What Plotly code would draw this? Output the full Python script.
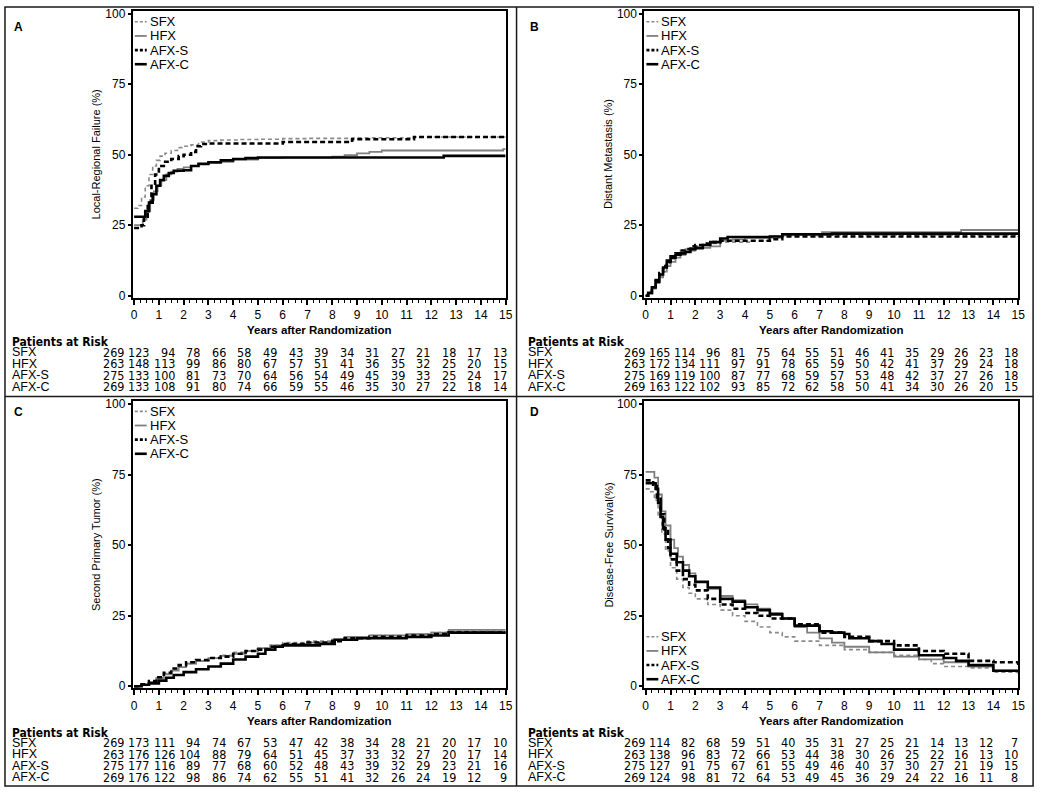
import plotly.graph_objects as go

W, H = 1050, 799
FONT = "Arial, Liberation Sans, Helvetica, sans-serif"
NARROW = "Liberation Sans Narrow, Arial Narrow, DejaVu Sans Condensed, Liberation Sans, sans-serif"

GROUPS = ["SFX", "HFX", "AFX-S", "AFX-C"]
YEARS = list(range(16))
Y_TICKS = [0, 25, 50, 75, 100]

PANEL_LETTERS = ["A", "B", "C", "D"]
Y_TITLES = ["Local-Regional Failure (%)", "Distant Metastasis (%)",
            "Second Primary Tumor (%)", "Disease-Free Survival(%)"]
X_TITLE = "Years after Randomization"
RISK_TITLE = "Patients at Risk"

# ---------------- Panel A: Local-regional failure ----------------
A_SFX_T = [0, 0.15, 0.3, 0.45, 0.6, 0.75, 0.9, 1.05, 1.25, 1.5, 1.75, 2.0, 2.3, 2.6, 3.0, 3.5, 4.2, 5.0, 6.0, 7.0, 8.8, 11.3, 15]
A_SFX_Y = [31, 32, 35, 39, 43, 46, 48, 49.5, 50.5, 51.5, 52.5, 53, 53.5, 54.5, 55, 55.2, 55.4, 55.5, 55.7, 55.8, 56, 56.3, 56.3]
A_HFX_T = [0, 0.2, 0.35, 0.5, 0.65, 0.8, 0.95, 1.1, 1.3, 1.5, 1.75, 2.0, 2.3, 2.6, 3.0, 3.5, 4.0, 5.0, 6.0, 8.0, 8.5, 9.0, 9.5, 10.0, 14.9, 15]
A_HFX_Y = [25, 25, 27, 30, 34, 37, 39, 41, 43, 44, 45, 45.5, 46, 46.5, 47, 47.5, 48.3, 48.8, 49, 49.3, 49.8, 50.5, 51, 51.5, 52, 52]
A_AFXS_T = [0, 0.3, 0.4, 0.55, 0.7, 0.85, 1.0, 1.2, 1.5, 1.8, 2.0, 2.3, 2.5, 2.7, 3.0, 6.0, 8.8, 11.3, 15]
A_AFXS_Y = [24, 25, 28, 33, 39, 43, 46, 47.5, 48.5, 49.5, 50, 51, 53, 53.8, 54, 54.5, 55.5, 56.3, 56.3]
A_AFXC_T = [0, 0.3, 0.45, 0.6, 0.75, 0.9, 1.05, 1.2, 1.4, 1.6, 2.0, 2.3, 2.6, 3.0, 3.5, 4.0, 4.5, 5.0, 12.5, 15]
A_AFXC_Y = [28, 28, 30, 33, 36, 39, 41, 42.5, 43.5, 44.3, 44.5, 46, 46.8, 47.3, 48, 48.5, 48.8, 49, 49.6, 49.6]

# ---------------- Panel B: Distant metastasis ----------------
B_SFX_T = [0, 0.1, 0.25, 0.4, 0.55, 0.7, 0.85, 1.0, 1.2, 1.4, 1.6, 1.8, 2.0, 2.3, 2.6, 3.0, 3.5, 4.3, 5.0, 5.5, 7.0, 15]
B_SFX_Y = [0, 1, 3, 5, 7, 9.5, 11.5, 13, 14.5, 16, 16.5, 17, 17.5, 18, 18.5, 19, 19, 19.5, 20.5, 21.3, 21.5, 21.8]
B_HFX_T = [0, 0.1, 0.25, 0.4, 0.55, 0.7, 0.85, 1.0, 1.2, 1.4, 1.6, 1.8, 2.0, 2.3, 2.6, 3.0, 3.5, 4.0, 5.0, 5.5, 7.1, 12.7, 15]
B_HFX_Y = [0, 0.8, 2.5, 4.5, 6.5, 8.5, 10.5, 12, 13.5, 14.5, 15.5, 16, 16.5, 17, 17.5, 19.5, 20, 20.5, 21, 21.5, 22.5, 23.3, 23.3]
B_AFXS_T = [0, 0.1, 0.25, 0.4, 0.55, 0.7, 0.85, 1.0, 1.2, 1.4, 1.6, 1.8, 2.0, 2.3, 2.6, 3.0, 3.3, 5.0, 5.5, 15]
B_AFXS_Y = [0, 1, 3, 5.5, 8, 10.5, 12.5, 14, 15, 16, 16.5, 17.5, 18, 18.5, 19, 19.5, 19.5, 20, 21, 21.2]
B_AFXC_T = [0, 0.1, 0.25, 0.4, 0.55, 0.7, 0.85, 1.0, 1.2, 1.4, 1.6, 1.8, 2.0, 2.3, 2.6, 3.0, 3.3, 5.0, 5.5, 7.5, 15]
B_AFXC_Y = [0, 1, 3, 5, 7.5, 10, 12, 13.5, 14.5, 15, 15.5, 16.5, 17, 18, 19, 20.3, 20.8, 21, 21.8, 22, 22]

# ---------------- Panel C: Second primary tumor ----------------
C_T = [0, 0.3, 0.6, 0.9, 1.2, 1.5, 1.8, 2.1, 2.5, 3.0, 3.5, 4.0, 4.5, 5.0, 5.5, 6.0, 7.0, 8.0, 8.5, 9.5, 11.0, 12.0, 12.7, 15]
C_SFX_Y = [0, 0.5, 1.5, 3, 4.5, 6, 7, 8, 9, 10, 11, 12, 12.5, 13.5, 14.5, 15.5, 16, 16.5, 17.5, 18, 18.5, 19, 19.5, 19.5]
C_HFX_Y = [0, 0.5, 1.5, 2.8, 4.2, 5.5, 6.8, 8, 9, 10, 10.8, 11.5, 12.5, 13.5, 14.5, 15, 15.5, 16.5, 17.5, 18, 18.5, 19, 20, 20]
C_AFXS_Y = [0, 0.7, 1.8, 3.2, 4.8, 6.3, 7.5, 8.5, 9.3, 10, 10.5, 11.5, 12.5, 13, 14, 15, 15.5, 16, 17, 17.5, 18, 18.5, 19, 19.5]
C_AFXC_T = [0, 0.3, 0.6, 1.0, 1.3, 1.6, 2.0, 2.5, 3.0, 3.5, 4.0, 4.5, 5.0, 5.3, 5.7, 6.0, 7.0, 7.5, 8.1, 9.0, 10.0, 11.0, 12.0, 12.7, 15]
C_AFXC_Y = [0, 0.5, 1, 2, 3, 4, 5, 6, 7, 8, 9.5, 10.5, 11.5, 13, 14, 14.5, 14.5, 15, 16.5, 17, 17, 17.5, 18, 19, 19]

# ---------------- Panel D: Disease-free survival ----------------
D_SFX_T = [0, 0.2, 0.35, 0.5, 0.65, 0.8, 1.0, 1.25, 1.5, 1.75, 2.0, 2.5, 3.0, 3.5, 4.0, 4.5, 5.0, 5.5, 6.0, 7.0, 8.0, 9.0, 10.0, 11.0, 11.5, 12.0, 13.0, 14.0, 15]
D_SFX_Y = [70, 69, 66, 60, 54, 48, 42, 38, 35, 33, 31, 29, 27, 25, 23, 21, 19, 17.5, 16, 14.5, 13, 12, 11, 9.5, 8, 7, 6.5, 5, 4]
D_HFX_T = [0, 0.35, 0.5, 0.65, 0.8, 1.0, 1.15, 1.3, 1.5, 1.75, 2.0, 2.5, 3.0, 3.5, 4.0, 4.5, 5.0, 5.5, 6.0, 6.5, 7.0, 7.5, 8.0, 9.0, 10.0, 11.0, 12.0, 13.0, 14.0, 15]
D_HFX_Y = [76, 74, 68, 62, 57, 52, 49, 46, 43, 40, 37, 34.5, 32, 30.5, 29, 27.5, 26, 24, 21, 19, 17, 15.5, 14, 12, 10.5, 9.5, 8.5, 7, 5.5, 4.5]
D_AFXS_T = [0, 0.3, 0.45, 0.6, 0.75, 0.9, 1.0, 1.25, 1.5, 1.75, 2.0, 2.5, 3.0, 3.5, 4.0, 4.5, 5.0, 6.0, 7.0, 8.0, 9.0, 10.0, 11.0, 12.0, 13.0, 14.0, 15]
D_AFXS_Y = [73, 71, 67, 61, 55, 49, 45, 41, 38, 36, 34, 31, 29, 27.5, 26, 25, 24, 22, 19, 17.5, 16, 14.5, 12.5, 11.5, 9, 8.5, 7]
D_AFXC_T = [0, 0.4, 0.5, 0.6, 0.7, 0.8, 1.0, 1.25, 1.5, 1.75, 2.0, 2.5, 3.0, 3.5, 4.0, 4.5, 5.0, 5.5, 6.0, 6.5, 7.0, 7.5, 8.0, 8.2, 9.0, 9.5, 10.0, 11.0, 12.0, 12.5, 13.0, 14.0, 15]
D_AFXC_Y = [72, 70, 65, 60, 56, 52, 47, 44, 41, 39, 37, 35, 31, 30, 28, 27, 25.5, 24, 21.5, 21.5, 19.5, 19, 18.5, 17, 16, 15, 13, 11, 10, 9, 7.5, 5.5, 5.5]

# ---------------- Patients at risk ----------------
A_RISK_SFX = [269, 123, 94, 78, 66, 58, 49, 43, 39, 34, 31, 27, 21, 18, 17, 13]
A_RISK_HFX = [263, 148, 113, 99, 86, 80, 67, 57, 51, 41, 36, 35, 32, 25, 20, 15]
A_RISK_AFXS = [275, 133, 100, 81, 73, 70, 64, 56, 54, 49, 45, 39, 33, 25, 24, 17]
A_RISK_AFXC = [269, 133, 108, 91, 80, 74, 66, 59, 55, 46, 35, 30, 27, 22, 18, 14]

B_RISK_SFX = [269, 165, 114, 96, 81, 75, 64, 55, 51, 46, 41, 35, 29, 26, 23, 18]
B_RISK_HFX = [263, 172, 134, 111, 97, 91, 78, 65, 59, 50, 42, 41, 37, 29, 24, 18]
B_RISK_AFXS = [275, 169, 119, 100, 87, 77, 68, 59, 57, 53, 48, 42, 37, 27, 26, 18]
B_RISK_AFXC = [269, 163, 122, 102, 93, 85, 72, 62, 58, 50, 41, 34, 30, 26, 20, 15]

C_RISK_SFX = [269, 173, 111, 94, 74, 67, 53, 47, 42, 38, 34, 28, 21, 20, 17, 10]
C_RISK_HFX = [263, 176, 126, 104, 88, 79, 64, 51, 45, 37, 33, 32, 27, 20, 17, 14]
C_RISK_AFXS = [275, 177, 116, 89, 77, 68, 60, 52, 48, 43, 39, 32, 29, 23, 21, 16]
C_RISK_AFXC = [269, 176, 122, 98, 86, 74, 62, 55, 51, 41, 32, 26, 24, 19, 12, 9]

D_RISK_SFX = [269, 114, 82, 68, 59, 51, 40, 35, 31, 27, 25, 21, 14, 13, 12, 7]
D_RISK_HFX = [263, 138, 96, 83, 72, 66, 53, 44, 38, 30, 26, 25, 22, 16, 13, 10]
D_RISK_AFXS = [275, 127, 91, 75, 67, 61, 55, 49, 46, 40, 37, 30, 27, 21, 19, 15]
D_RISK_AFXC = [269, 124, 98, 81, 72, 64, 53, 49, 45, 36, 29, 24, 22, 16, 11, 8]

CURVES = [
    [(A_SFX_T, A_SFX_Y), (A_HFX_T, A_HFX_Y), (A_AFXS_T, A_AFXS_Y), (A_AFXC_T, A_AFXC_Y)],
    [(B_SFX_T, B_SFX_Y), (B_HFX_T, B_HFX_Y), (B_AFXS_T, B_AFXS_Y), (B_AFXC_T, B_AFXC_Y)],
    [(C_T, C_SFX_Y), (C_T, C_HFX_Y), (C_T, C_AFXS_Y), (C_AFXC_T, C_AFXC_Y)],
    [(D_SFX_T, D_SFX_Y), (D_HFX_T, D_HFX_Y), (D_AFXS_T, D_AFXS_Y), (D_AFXC_T, D_AFXC_Y)],
]
RISKS = [
    [A_RISK_SFX, A_RISK_HFX, A_RISK_AFXS, A_RISK_AFXC],
    [B_RISK_SFX, B_RISK_HFX, B_RISK_AFXS, B_RISK_AFXC],
    [C_RISK_SFX, C_RISK_HFX, C_RISK_AFXS, C_RISK_AFXC],
    [D_RISK_SFX, D_RISK_HFX, D_RISK_AFXS, D_RISK_AFXC],
]

# ---------------- Styles / geometry (reference pixels) ----------------
STYLES = [
    dict(color="#8a8a8a", width=1.6, dash="4px,3px"),
    dict(color="#7f7f7f", width=1.8, dash="solid"),
    dict(color="#000000", width=2.6, dash="5px,3px"),
    dict(color="#000000", width=2.6, dash="solid"),
]

GEOM = [
    dict(x0=132, x1=508, top=7, bot=297, letx=17, ytx=95, r0=125, r1=511, leg=18, dy=0, labx=8),
    dict(x0=648, x1=1025, top=7, bot=297, letx=537, ytx=612, r0=651, r1=1027, leg=18, dy=0, labx=529),
    dict(x0=132, x1=508, top=402, bot=692, letx=17, ytx=95, r0=125, r1=511, leg=412, dy=395, labx=8),
    dict(x0=648, x1=1025, top=402, bot=692, letx=537, ytx=612, r0=651, r1=1027, leg=640, dy=395, labx=529),
]


def px(x):
    return min(1.0, max(0.0, x / W))


def py(y):
    return min(1.0, max(0.0, 1 - y / H))


fig = go.Figure()
layout = dict(
    width=W, height=H, margin=dict(l=0, r=0, t=0, b=0),
    paper_bgcolor="white", plot_bgcolor="white", showlegend=False,
    font=dict(family=FONT, color="black", size=12),
)
annotations = []
shapes = []

for k in range(4):
    g = GEOM[k]
    sfx = "" if k == 0 else str(k + 1)
    layout["xaxis" + sfx] = dict(
        domain=[px(g["x0"]), px(g["x1"])], anchor="y" + sfx,
        range=[-0.05, 15.0], tickvals=YEARS, ticks="outside", ticklen=5, tickwidth=1.5,
        tickcolor="black", showline=True, linewidth=2.2, linecolor="black", mirror=True,
        showgrid=False, zeroline=False, fixedrange=True,
        minor=dict(dtick=0.25, ticks="outside", ticklen=3, tickwidth=1, tickcolor="black"),
        tickfont=dict(size=12, family=FONT, color="black"),
    )
    layout["yaxis" + sfx] = dict(
        domain=[py(g["bot"]), py(g["top"])], anchor="x" + sfx,
        range=[-0.7, 101], tickvals=Y_TICKS, ticks="outside", ticklen=3, tickwidth=1.5,
        tickcolor="black", showline=True, linewidth=2.2, linecolor="black", mirror=True,
        showgrid=False, zeroline=False, fixedrange=True,
        tickfont=dict(size=12, family=FONT, color="black"),
    )
    for j in range(4):
        t, v = CURVES[k][j]
        st = STYLES[j]
        fig.add_trace(go.Scatter(
            x=t, y=v, mode="lines", name=GROUPS[j],
            line=dict(shape="hv", color=st["color"], width=st["width"], dash=st["dash"]),
            xaxis="x" + sfx, yaxis="y" + sfx, hoverinfo="x+y+name",
        ))
    let_y = 23 if k < 2 else 413
    annotations.append(dict(text="<b>%s</b>" % PANEL_LETTERS[k], x=px(g["letx"]), y=py(let_y),
                            xref="paper", yref="paper", xanchor="center", yanchor="middle",
                            showarrow=False, font=dict(size=12, family=FONT)))
    mid = (g["top"] + g["bot"]) / 2
    annotations.append(dict(text=Y_TITLES[k], x=px(g["ytx"]), y=py(mid),
                            xref="paper", yref="paper", xanchor="center", yanchor="middle",
                            textangle=-90, showarrow=False, font=dict(size=11, family=FONT)))
    annotations.append(dict(text="<b>%s</b>" % X_TITLE, x=px((g["x0"] + g["x1"]) / 2), y=py(330 + g["dy"]),
                            xref="paper", yref="paper", xanchor="center", yanchor="middle",
                            showarrow=False, font=dict(size=11.5, family=FONT)))
    for j in range(4):
        ly = g["leg"] + j * 14.3
        st = STYLES[j]
        shapes.append(dict(type="line", xref="paper", yref="paper",
                           x0=px(g["x0"] + 2), x1=px(g["x0"] + 14), y0=py(ly), y1=py(ly),
                           line=dict(color=st["color"], width=st["width"],
                                     dash=st["dash"] if st["dash"] == "solid" else "3px,2px")))
        annotations.append(dict(text=GROUPS[j], x=px(g["x0"] + 15), y=py(ly), xref="paper", yref="paper",
                                xanchor="left", yanchor="middle", showarrow=False,
                                font=dict(size=13, family=FONT)))
    annotations.append(dict(text="<b>%s</b>" % RISK_TITLE, x=px(g["labx"]), y=py(342 + g["dy"]),
                            xref="paper", yref="paper", xanchor="left", yanchor="middle",
                            showarrow=False, font=dict(size=12, family=NARROW)))
    for j in range(4):
        ry = 352 + g["dy"] + j * 11.7
        annotations.append(dict(text=GROUPS[j], x=px(g["labx"]), y=py(ry), xref="paper", yref="paper",
                                xanchor="left", yanchor="middle", showarrow=False,
                                font=dict(size=12.5, family=FONT)))
        for i, n in enumerate(RISKS[k][j]):
            xr = g["r0"] + (g["r1"] - g["r0"]) * i / 15
            annotations.append(dict(text=str(n), x=px(xr), y=py(ry), xref="paper", yref="paper",
                                    xanchor="right", yanchor="middle", showarrow=False,
                                    font=dict(size=12.5, family=NARROW)))

# outer frame and dividers
shapes.append(dict(type="rect", xref="paper", yref="paper", x0=px(3), x1=px(1040), y0=py(3), y1=py(791),
                   line=dict(color="#1a1a1a", width=1.5)))
shapes.append(dict(type="line", xref="paper", yref="paper", x0=px(519), x1=px(519), y0=py(3), y1=py(791),
                   line=dict(color="#1a1a1a", width=1.5)))
shapes.append(dict(type="line", xref="paper", yref="paper", x0=px(3), x1=px(1040), y0=py(397), y1=py(397),
                   line=dict(color="#1a1a1a", width=1.5)))

layout["annotations"] = annotations
layout["shapes"] = shapes
fig.update_layout(**layout)

PIN = (
    "document.documentElement.style.margin='0';"
    "document.documentElement.style.overflow='hidden';"
    "document.body.style.margin='0';"
    "document.body.style.overflow='hidden';"
    "var gd=document.getElementById('{plot_id}');"
    "gd.style.position='fixed';gd.style.left='0px';gd.style.top='0px';"
)
fig.write_html("out.html", config={"displayModeBar": False}, post_script=PIN)
